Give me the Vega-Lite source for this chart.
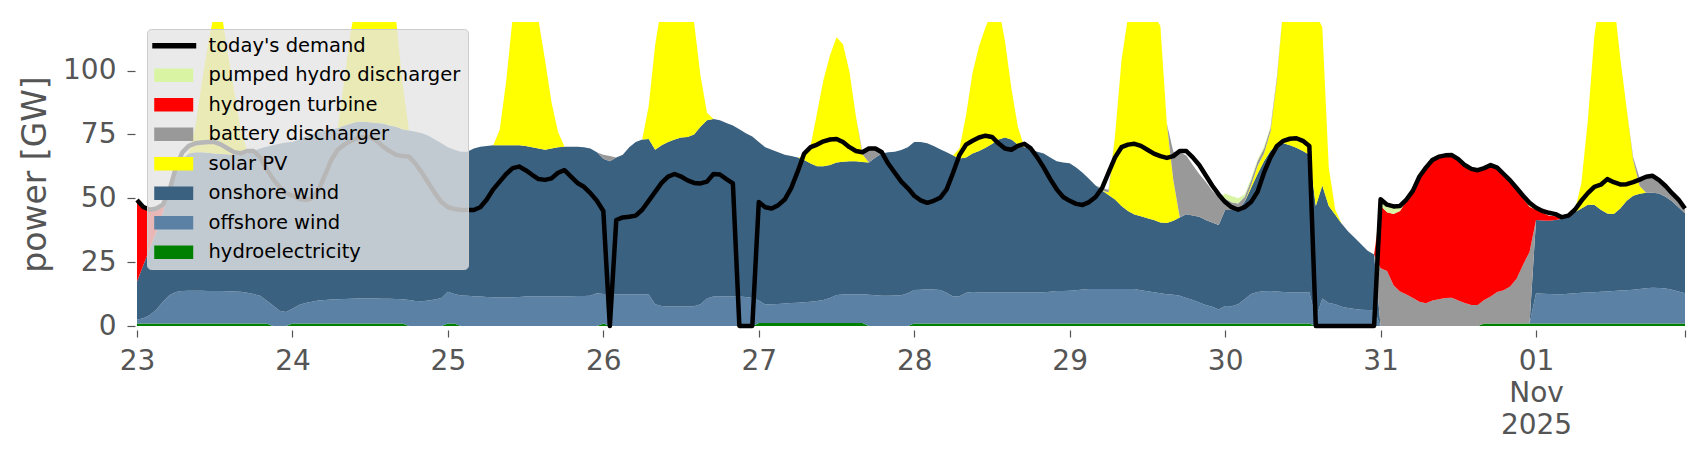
{
  "$schema": "https://vega.github.io/schema/vega-lite/v6.json",
  "width": 1548,
  "height": 304,
  "autosize": "none",
  "padding": {"left": 137, "top": 22, "right": 21, "bottom": 134},
  "background": "white",
  "data": {"values": [
{"t":"2025-10-23T00:00Z","hy":1,"of":1.5,"on":14.9,"so":0,"ba":0,"h2":31.9,"ph":0,"d":49.3},
{"t":"2025-10-23T01:00Z","hy":1,"of":2,"on":21,"so":0,"ba":0,"h2":22.5,"ph":0,"d":46.5},
{"t":"2025-10-23T02:00Z","hy":1,"of":3.3,"on":26.2,"so":0,"ba":0,"h2":15,"ph":0,"d":45.5},
{"t":"2025-10-23T03:00Z","hy":1,"of":5.5,"on":30.5,"so":0,"ba":0,"h2":9,"ph":0,"d":46},
{"t":"2025-10-23T04:00Z","hy":1,"of":8.5,"on":35,"so":0,"ba":0,"h2":3,"ph":0,"d":47.5},
{"t":"2025-10-23T05:00Z","hy":1,"of":11,"on":42,"so":0,"ba":0,"h2":0,"ph":0,"d":53},
{"t":"2025-10-23T06:00Z","hy":1,"of":12.3,"on":47.7,"so":0,"ba":0,"h2":0,"ph":0,"d":62},
{"t":"2025-10-23T07:00Z","hy":1,"of":12.7,"on":51.8,"so":0,"ba":0,"h2":0,"ph":0,"d":68},
{"t":"2025-10-23T08:00Z","hy":1,"of":12.8,"on":53.7,"so":0.5,"ba":0,"h2":0,"ph":0,"d":70.5},
{"t":"2025-10-23T09:00Z","hy":1,"of":12.8,"on":54.2,"so":10,"ba":0,"h2":0,"ph":0,"d":71.5},
{"t":"2025-10-23T10:00Z","hy":1,"of":12.8,"on":54.2,"so":27,"ba":0,"h2":0,"ph":0,"d":71.8},
{"t":"2025-10-23T11:00Z","hy":1,"of":12.7,"on":54.1,"so":43,"ba":0,"h2":0,"ph":0,"d":72},
{"t":"2025-10-23T12:00Z","hy":1,"of":12.7,"on":53.8,"so":56,"ba":0,"h2":0,"ph":0,"d":72},
{"t":"2025-10-23T13:00Z","hy":1,"of":12.7,"on":53.6,"so":56,"ba":0,"h2":0,"ph":0,"d":71},
{"t":"2025-10-23T14:00Z","hy":1,"of":12.6,"on":53.6,"so":40,"ba":0,"h2":0,"ph":0,"d":69.5},
{"t":"2025-10-23T15:00Z","hy":1,"of":12.5,"on":53.5,"so":25,"ba":0,"h2":0,"ph":0,"d":68},
{"t":"2025-10-23T16:00Z","hy":1,"of":12.4,"on":53.6,"so":10,"ba":0,"h2":0,"ph":0,"d":67.6},
{"t":"2025-10-23T17:00Z","hy":1,"of":12,"on":54.5,"so":1,"ba":0,"h2":0,"ph":0,"d":68.5},
{"t":"2025-10-23T18:00Z","hy":1,"of":11.5,"on":56,"so":0,"ba":0,"h2":0,"ph":0,"d":68.5},
{"t":"2025-10-23T19:00Z","hy":1,"of":10.8,"on":57.7,"so":0,"ba":0,"h2":0,"ph":0,"d":66},
{"t":"2025-10-23T20:00Z","hy":1,"of":9,"on":60.2,"so":0,"ba":0,"h2":0,"ph":0,"d":61.5},
{"t":"2025-10-23T21:00Z","hy":0,"of":8,"on":62.8,"so":0,"ba":0,"h2":0,"ph":0,"d":57.5},
{"t":"2025-10-23T22:00Z","hy":0,"of":6,"on":65.3,"so":0,"ba":0,"h2":0,"ph":0,"d":54.5},
{"t":"2025-10-23T23:00Z","hy":0,"of":5.5,"on":66.3,"so":0,"ba":0,"h2":0,"ph":0,"d":52},
{"t":"2025-10-24T00:00Z","hy":1,"of":5.8,"on":65.2,"so":0,"ba":0,"h2":0,"ph":0,"d":51},
{"t":"2025-10-24T01:00Z","hy":1,"of":7.2,"on":64.8,"so":0,"ba":0,"h2":0,"ph":0,"d":49.8},
{"t":"2025-10-24T02:00Z","hy":1,"of":8,"on":65.2,"so":0,"ba":0,"h2":0,"ph":0,"d":49.3},
{"t":"2025-10-24T03:00Z","hy":1,"of":8.5,"on":65.5,"so":0,"ba":0,"h2":0,"ph":0,"d":50},
{"t":"2025-10-24T04:00Z","hy":1,"of":9,"on":65.8,"so":0,"ba":0,"h2":0,"ph":0,"d":53},
{"t":"2025-10-24T05:00Z","hy":1,"of":9.2,"on":66.3,"so":0,"ba":0,"h2":0,"ph":0,"d":59},
{"t":"2025-10-24T06:00Z","hy":1,"of":9.4,"on":66.6,"so":0,"ba":0,"h2":0,"ph":0,"d":65},
{"t":"2025-10-24T07:00Z","hy":1,"of":9.5,"on":66.9,"so":0,"ba":0,"h2":0,"ph":0,"d":69},
{"t":"2025-10-24T08:00Z","hy":1,"of":9.6,"on":67.9,"so":18,"ba":0,"h2":0,"ph":0,"d":71},
{"t":"2025-10-24T09:00Z","hy":1,"of":9.7,"on":68.6,"so":36,"ba":0,"h2":0,"ph":0,"d":72.5},
{"t":"2025-10-24T10:00Z","hy":1,"of":9.8,"on":69.2,"so":48,"ba":0,"h2":0,"ph":0,"d":73.5},
{"t":"2025-10-24T11:00Z","hy":1,"of":9.8,"on":69.2,"so":55,"ba":0,"h2":0,"ph":0,"d":74},
{"t":"2025-10-24T12:00Z","hy":1,"of":9.8,"on":69,"so":55,"ba":0,"h2":0,"ph":0,"d":74},
{"t":"2025-10-24T13:00Z","hy":1,"of":9.8,"on":68.7,"so":55,"ba":0,"h2":0,"ph":0,"d":72.5},
{"t":"2025-10-24T14:00Z","hy":1,"of":9.7,"on":68.6,"so":55,"ba":0,"h2":0,"ph":0,"d":70.2},
{"t":"2025-10-24T15:00Z","hy":1,"of":9.7,"on":67.8,"so":52,"ba":0,"h2":0,"ph":0,"d":68.5},
{"t":"2025-10-24T16:00Z","hy":1,"of":9.6,"on":67.4,"so":42,"ba":0,"h2":0,"ph":0,"d":67},
{"t":"2025-10-24T17:00Z","hy":1,"of":9.5,"on":66.5,"so":18,"ba":0,"h2":0,"ph":0,"d":66.5},
{"t":"2025-10-24T18:00Z","hy":0,"of":10.2,"on":66.3,"so":0,"ba":0,"h2":0,"ph":0,"d":66.3},
{"t":"2025-10-24T19:00Z","hy":0,"of":9.8,"on":66.2,"so":0,"ba":0,"h2":0,"ph":0,"d":63.5},
{"t":"2025-10-24T20:00Z","hy":0,"of":9.7,"on":65.8,"so":0,"ba":0,"h2":0,"ph":0,"d":60},
{"t":"2025-10-24T21:00Z","hy":0,"of":10,"on":64.5,"so":0,"ba":0,"h2":0,"ph":0,"d":56},
{"t":"2025-10-24T22:00Z","hy":0,"of":10.4,"on":62.6,"so":0,"ba":0,"h2":0,"ph":0,"d":52},
{"t":"2025-10-24T23:00Z","hy":0,"of":11,"on":60.5,"so":0,"ba":0,"h2":0,"ph":0,"d":48.5},
{"t":"2025-10-25T00:00Z","hy":1,"of":12.4,"on":56.6,"so":0,"ba":0,"h2":0,"ph":0,"d":46.5},
{"t":"2025-10-25T01:00Z","hy":1,"of":11.5,"on":56.5,"so":0,"ba":0,"h2":0,"ph":0,"d":45.8},
{"t":"2025-10-25T02:00Z","hy":0,"of":11.9,"on":56.3,"so":0,"ba":0,"h2":0,"ph":0,"d":45.4},
{"t":"2025-10-25T03:00Z","hy":0,"of":11.8,"on":56.4,"so":0,"ba":0,"h2":0,"ph":0,"d":45.4},
{"t":"2025-10-25T04:00Z","hy":0,"of":11.6,"on":57.9,"so":0,"ba":0,"h2":0,"ph":0,"d":45.4},
{"t":"2025-10-25T05:00Z","hy":0,"of":11.5,"on":58.7,"so":0,"ba":0,"h2":0,"ph":0,"d":46.5},
{"t":"2025-10-25T06:00Z","hy":0,"of":11.4,"on":59.1,"so":0,"ba":0,"h2":0,"ph":0,"d":49.5},
{"t":"2025-10-25T07:00Z","hy":0,"of":11.3,"on":59.5,"so":0,"ba":0,"h2":0,"ph":0,"d":53.5},
{"t":"2025-10-25T08:00Z","hy":0,"of":11.2,"on":59.6,"so":6,"ba":0,"h2":0,"ph":0,"d":56.5},
{"t":"2025-10-25T09:00Z","hy":0,"of":11.2,"on":59.6,"so":25,"ba":0,"h2":0,"ph":0,"d":59.5},
{"t":"2025-10-25T10:00Z","hy":0,"of":11.3,"on":59.5,"so":50,"ba":0,"h2":0,"ph":0,"d":61.8},
{"t":"2025-10-25T11:00Z","hy":0,"of":11.4,"on":59.4,"so":62,"ba":0,"h2":0,"ph":0,"d":62.4},
{"t":"2025-10-25T12:00Z","hy":0,"of":11.5,"on":59,"so":66,"ba":0,"h2":0,"ph":0,"d":61},
{"t":"2025-10-25T13:00Z","hy":0,"of":11.5,"on":58.5,"so":62,"ba":0,"h2":0,"ph":0,"d":59.2},
{"t":"2025-10-25T14:00Z","hy":0,"of":11.5,"on":58,"so":50,"ba":0,"h2":0,"ph":0,"d":57.5},
{"t":"2025-10-25T15:00Z","hy":0,"of":11.5,"on":57.5,"so":35,"ba":0,"h2":0,"ph":0,"d":57.2},
{"t":"2025-10-25T16:00Z","hy":0,"of":11.5,"on":58,"so":18,"ba":0,"h2":0,"ph":0,"d":57.8},
{"t":"2025-10-25T17:00Z","hy":0,"of":11.5,"on":58.5,"so":6,"ba":0,"h2":0,"ph":0,"d":60},
{"t":"2025-10-25T18:00Z","hy":0,"of":11.6,"on":58.6,"so":0,"ba":0,"h2":0,"ph":0,"d":61},
{"t":"2025-10-25T19:00Z","hy":0,"of":11.6,"on":58.6,"so":0,"ba":0,"h2":0,"ph":0,"d":58.5},
{"t":"2025-10-25T20:00Z","hy":0,"of":11.7,"on":58.5,"so":0,"ba":0,"h2":0,"ph":0,"d":56},
{"t":"2025-10-25T21:00Z","hy":0,"of":11.7,"on":58.3,"so":0,"ba":0,"h2":0,"ph":0,"d":54.5},
{"t":"2025-10-25T22:00Z","hy":0,"of":11.8,"on":57.7,"so":0,"ba":0,"h2":0,"ph":0,"d":52},
{"t":"2025-10-25T23:00Z","hy":0,"of":12.8,"on":55.2,"so":0,"ba":0,"h2":0,"ph":0,"d":49},
{"t":"2025-10-26T00:00Z","hy":1,"of":11.5,"on":53,"so":0,"ba":1.5,"h2":0,"ph":0,"d":45},
{"t":"2025-10-26T01:00Z","hy":0,"of":12.4,"on":52.1,"so":0,"ba":2,"h2":0,"ph":0,"d":0},
{"t":"2025-10-26T02:00Z","hy":0,"of":12.4,"on":53.6,"so":0,"ba":0,"h2":0,"ph":0,"d":41.5},
{"t":"2025-10-26T03:00Z","hy":0,"of":12.3,"on":54.7,"so":0,"ba":0,"h2":0,"ph":0,"d":42.5},
{"t":"2025-10-26T04:00Z","hy":0,"of":12.3,"on":57.7,"so":0,"ba":0,"h2":0,"ph":0,"d":42.8},
{"t":"2025-10-26T05:00Z","hy":0,"of":12.4,"on":59.6,"so":0,"ba":0,"h2":0,"ph":0,"d":43.2},
{"t":"2025-10-26T06:00Z","hy":0,"of":12.4,"on":60.6,"so":0,"ba":0,"h2":0,"ph":0,"d":45.5},
{"t":"2025-10-26T07:00Z","hy":0,"of":12.3,"on":60.9,"so":12.8,"ba":0,"h2":0,"ph":0,"d":49},
{"t":"2025-10-26T08:00Z","hy":0,"of":8.5,"on":60.5,"so":41,"ba":0,"h2":0,"ph":0,"d":52.5},
{"t":"2025-10-26T09:00Z","hy":0,"of":7.8,"on":63,"so":55,"ba":0,"h2":0,"ph":0,"d":56},
{"t":"2025-10-26T10:00Z","hy":0,"of":7.6,"on":64.4,"so":60,"ba":0,"h2":0,"ph":0,"d":58.5},
{"t":"2025-10-26T11:00Z","hy":0,"of":7.6,"on":65.4,"so":62,"ba":0,"h2":0,"ph":0,"d":59.5},
{"t":"2025-10-26T12:00Z","hy":0,"of":7.6,"on":66.2,"so":62,"ba":0,"h2":0,"ph":0,"d":58.5},
{"t":"2025-10-26T13:00Z","hy":0,"of":7.6,"on":66.4,"so":58,"ba":0,"h2":0,"ph":0,"d":57},
{"t":"2025-10-26T14:00Z","hy":0,"of":7.7,"on":67.3,"so":44,"ba":0,"h2":0,"ph":0,"d":56},
{"t":"2025-10-26T15:00Z","hy":0,"of":8.5,"on":69.5,"so":20,"ba":0,"h2":0,"ph":0,"d":55.8},
{"t":"2025-10-26T16:00Z","hy":0,"of":10.8,"on":69.7,"so":3,"ba":0,"h2":0,"ph":0,"d":56.5},
{"t":"2025-10-26T17:00Z","hy":0,"of":11.5,"on":69.5,"so":0,"ba":0,"h2":0,"ph":0,"d":59.5},
{"t":"2025-10-26T18:00Z","hy":0,"of":11.5,"on":69,"so":0,"ba":0,"h2":0,"ph":0,"d":59.3},
{"t":"2025-10-26T19:00Z","hy":0,"of":11.5,"on":68,"so":0,"ba":0,"h2":0,"ph":0,"d":57.5},
{"t":"2025-10-26T20:00Z","hy":0,"of":11.5,"on":67,"so":0,"ba":0,"h2":0,"ph":0,"d":55.8},
{"t":"2025-10-26T21:00Z","hy":0,"of":11.5,"on":65.5,"so":0,"ba":0,"h2":0,"ph":0,"d":0},
{"t":"2025-10-26T22:00Z","hy":0,"of":11.4,"on":64.1,"so":0,"ba":0,"h2":0,"ph":0,"d":0},
{"t":"2025-10-26T23:00Z","hy":0,"of":11,"on":63.2,"so":0,"ba":0,"h2":0,"ph":0,"d":0},
{"t":"2025-10-27T00:00Z","hy":1.2,"of":8.8,"on":62,"so":0,"ba":0,"h2":0,"ph":0,"d":48.5},
{"t":"2025-10-27T01:00Z","hy":1.2,"of":7.2,"on":61.6,"so":0,"ba":0,"h2":0,"ph":0,"d":46.5},
{"t":"2025-10-27T02:00Z","hy":1.2,"of":7.3,"on":60.5,"so":0,"ba":0,"h2":0,"ph":0,"d":46},
{"t":"2025-10-27T03:00Z","hy":1.2,"of":7.4,"on":59.4,"so":0,"ba":0,"h2":0,"ph":0,"d":47.3},
{"t":"2025-10-27T04:00Z","hy":1.2,"of":7.6,"on":58.2,"so":0,"ba":0,"h2":0,"ph":0,"d":49.5},
{"t":"2025-10-27T05:00Z","hy":1.2,"of":7.8,"on":57.5,"so":0,"ba":0,"h2":0,"ph":0,"d":54},
{"t":"2025-10-27T06:00Z","hy":1.2,"of":7.9,"on":56.9,"so":0,"ba":0,"h2":0,"ph":0,"d":60.4},
{"t":"2025-10-27T07:00Z","hy":1.2,"of":8.1,"on":55.7,"so":1,"ba":0,"h2":0,"ph":0,"d":67.5},
{"t":"2025-10-27T08:00Z","hy":1.2,"of":8.3,"on":54.1,"so":7,"ba":0,"h2":0,"ph":0,"d":70},
{"t":"2025-10-27T09:00Z","hy":1.2,"of":8.6,"on":52.7,"so":21,"ba":0,"h2":0,"ph":0,"d":71},
{"t":"2025-10-27T10:00Z","hy":1.2,"of":9,"on":52.3,"so":34,"ba":0,"h2":0,"ph":0,"d":72.3},
{"t":"2025-10-27T11:00Z","hy":1.2,"of":9.8,"on":52,"so":43,"ba":0,"h2":0,"ph":0,"d":73},
{"t":"2025-10-27T12:00Z","hy":1.2,"of":10.9,"on":51.9,"so":49,"ba":0,"h2":0,"ph":0,"d":73.2},
{"t":"2025-10-27T13:00Z","hy":1.2,"of":11.1,"on":52,"so":46,"ba":0,"h2":0,"ph":0,"d":72},
{"t":"2025-10-27T14:00Z","hy":1.2,"of":11.2,"on":52.1,"so":35,"ba":0,"h2":0,"ph":0,"d":70},
{"t":"2025-10-27T15:00Z","hy":1.2,"of":11.2,"on":52.1,"so":17.5,"ba":0,"h2":0,"ph":0,"d":68.5},
{"t":"2025-10-27T16:00Z","hy":1.2,"of":11.2,"on":51.8,"so":3,"ba":1,"h2":0,"ph":0,"d":68},
{"t":"2025-10-27T17:00Z","hy":0,"of":12.2,"on":51.8,"so":0,"ba":5,"h2":0,"ph":0,"d":69.5},
{"t":"2025-10-27T18:00Z","hy":0,"of":12,"on":54,"so":0,"ba":3,"h2":0,"ph":0,"d":69.5},
{"t":"2025-10-27T19:00Z","hy":0,"of":11.8,"on":55.7,"so":0,"ba":0,"h2":0,"ph":0,"d":68},
{"t":"2025-10-27T20:00Z","hy":0,"of":11.8,"on":56.2,"so":0,"ba":0,"h2":0,"ph":0,"d":63.5},
{"t":"2025-10-27T21:00Z","hy":0,"of":11.9,"on":56.3,"so":0,"ba":0,"h2":0,"ph":0,"d":60},
{"t":"2025-10-27T22:00Z","hy":0,"of":12,"on":56.9,"so":0,"ba":0,"h2":0,"ph":0,"d":56.5},
{"t":"2025-10-27T23:00Z","hy":0,"of":12.8,"on":57.2,"so":0,"ba":0,"h2":0,"ph":0,"d":54},
{"t":"2025-10-28T00:00Z","hy":1,"of":13.1,"on":57.9,"so":0,"ba":0,"h2":0,"ph":0,"d":51},
{"t":"2025-10-28T01:00Z","hy":1,"of":13.2,"on":57.8,"so":0,"ba":0,"h2":0,"ph":0,"d":49.2},
{"t":"2025-10-28T02:00Z","hy":1,"of":13.4,"on":57.1,"so":0,"ba":0,"h2":0,"ph":0,"d":48.2},
{"t":"2025-10-28T03:00Z","hy":1,"of":13.3,"on":56.2,"so":0,"ba":0,"h2":0,"ph":0,"d":49},
{"t":"2025-10-28T04:00Z","hy":1,"of":13.1,"on":55.1,"so":0,"ba":0,"h2":0,"ph":0,"d":50.2},
{"t":"2025-10-28T05:00Z","hy":1,"of":12,"on":55,"so":0,"ba":0,"h2":0,"ph":0,"d":53.5},
{"t":"2025-10-28T06:00Z","hy":1,"of":10.5,"on":55.2,"so":0,"ba":0,"h2":0,"ph":0,"d":60},
{"t":"2025-10-28T07:00Z","hy":1,"of":10.6,"on":54,"so":4,"ba":0,"h2":0,"ph":0,"d":67},
{"t":"2025-10-28T08:00Z","hy":1,"of":12,"on":53,"so":16.5,"ba":0,"h2":0,"ph":0,"d":71},
{"t":"2025-10-28T09:00Z","hy":1,"of":12.3,"on":54.2,"so":31.5,"ba":0,"h2":0,"ph":0,"d":72.5},
{"t":"2025-10-28T10:00Z","hy":1,"of":12.2,"on":55.3,"so":41,"ba":0,"h2":0,"ph":0,"d":73.8},
{"t":"2025-10-28T11:00Z","hy":1,"of":12.2,"on":56.6,"so":47,"ba":0,"h2":0,"ph":0,"d":74.5},
{"t":"2025-10-28T12:00Z","hy":1,"of":12.2,"on":58,"so":52,"ba":0,"h2":0,"ph":0,"d":74},
{"t":"2025-10-28T13:00Z","hy":1,"of":12.2,"on":59.8,"so":52,"ba":0,"h2":0,"ph":0,"d":71.5},
{"t":"2025-10-28T14:00Z","hy":1,"of":12.2,"on":60.6,"so":38,"ba":0,"h2":0,"ph":0,"d":69.5},
{"t":"2025-10-28T15:00Z","hy":1,"of":12.2,"on":59.8,"so":20,"ba":0,"h2":0,"ph":0,"d":69},
{"t":"2025-10-28T16:00Z","hy":1,"of":12.2,"on":57.8,"so":7,"ba":0,"h2":0,"ph":0,"d":70.5},
{"t":"2025-10-28T17:00Z","hy":1,"of":12.2,"on":56.8,"so":0,"ba":0,"h2":0,"ph":0,"d":71.3},
{"t":"2025-10-28T18:00Z","hy":1,"of":12.2,"on":55.8,"so":0,"ba":0,"h2":0,"ph":0,"d":69.5},
{"t":"2025-10-28T19:00Z","hy":1,"of":12.2,"on":55,"so":0,"ba":0,"h2":0,"ph":0,"d":66},
{"t":"2025-10-28T20:00Z","hy":1,"of":12.2,"on":54.3,"so":0,"ba":0,"h2":0,"ph":0,"d":62},
{"t":"2025-10-28T21:00Z","hy":1,"of":12.4,"on":52.6,"so":0,"ba":0,"h2":0,"ph":0,"d":57.5},
{"t":"2025-10-28T22:00Z","hy":1,"of":12.7,"on":50.8,"so":0,"ba":0,"h2":0,"ph":0,"d":53.5},
{"t":"2025-10-28T23:00Z","hy":1,"of":12.7,"on":50.3,"so":0,"ba":0,"h2":0,"ph":0,"d":50.5},
{"t":"2025-10-29T00:00Z","hy":1,"of":12.8,"on":49.9,"so":0,"ba":0,"h2":0,"ph":0,"d":49},
{"t":"2025-10-29T01:00Z","hy":1,"of":13,"on":48,"so":0,"ba":0,"h2":0,"ph":0,"d":47.8},
{"t":"2025-10-29T02:00Z","hy":1,"of":13.3,"on":45.7,"so":0,"ba":0,"h2":0,"ph":0,"d":47.4},
{"t":"2025-10-29T03:00Z","hy":1,"of":13.5,"on":43,"so":0,"ba":0,"h2":0,"ph":0,"d":48.5},
{"t":"2025-10-29T04:00Z","hy":1,"of":13.5,"on":40.5,"so":0,"ba":0,"h2":0,"ph":0,"d":50.5},
{"t":"2025-10-29T05:00Z","hy":1,"of":13.5,"on":38.5,"so":0,"ba":1,"h2":0,"ph":0,"d":54},
{"t":"2025-10-29T06:00Z","hy":1,"of":13.5,"on":36.8,"so":1,"ba":1,"h2":0,"ph":0,"d":60},
{"t":"2025-10-29T07:00Z","hy":1,"of":13.5,"on":35,"so":25,"ba":0,"h2":0,"ph":0,"d":66},
{"t":"2025-10-29T08:00Z","hy":1,"of":13.5,"on":32.5,"so":57,"ba":0,"h2":0,"ph":0,"d":70},
{"t":"2025-10-29T09:00Z","hy":1,"of":13.5,"on":30.5,"so":76,"ba":0,"h2":0,"ph":0,"d":71},
{"t":"2025-10-29T10:00Z","hy":1,"of":13.5,"on":29.1,"so":80,"ba":0,"h2":0,"ph":0,"d":71.3},
{"t":"2025-10-29T11:00Z","hy":1,"of":13,"on":29,"so":82,"ba":0,"h2":0,"ph":0,"d":70.5},
{"t":"2025-10-29T12:00Z","hy":1,"of":12.6,"on":28.6,"so":82,"ba":0,"h2":0,"ph":0,"d":69},
{"t":"2025-10-29T13:00Z","hy":1,"of":12.2,"on":28.3,"so":80,"ba":0,"h2":0,"ph":0,"d":67.5},
{"t":"2025-10-29T14:00Z","hy":1,"of":11.8,"on":27.7,"so":77,"ba":0,"h2":0,"ph":0,"d":66.5},
{"t":"2025-10-29T15:00Z","hy":1,"of":11.4,"on":27.9,"so":39,"ba":0,"h2":0,"ph":0,"d":65.8},
{"t":"2025-10-29T16:00Z","hy":1,"of":11.2,"on":29,"so":16,"ba":11,"h2":0,"ph":0,"d":66.5},
{"t":"2025-10-29T17:00Z","hy":1,"of":10.8,"on":30.7,"so":0,"ba":25.5,"h2":0,"ph":0,"d":68.5},
{"t":"2025-10-29T18:00Z","hy":1,"of":10,"on":32.7,"so":0,"ba":23,"h2":0,"ph":0,"d":68.5},
{"t":"2025-10-29T19:00Z","hy":1,"of":9.2,"on":33.1,"so":0,"ba":19.7,"h2":0,"ph":0,"d":66},
{"t":"2025-10-29T20:00Z","hy":1,"of":8.2,"on":33.6,"so":0,"ba":16.7,"h2":0,"ph":0,"d":63},
{"t":"2025-10-29T21:00Z","hy":1,"of":7.2,"on":33.3,"so":0,"ba":15,"h2":0,"ph":0,"d":59},
{"t":"2025-10-29T22:00Z","hy":1,"of":6.5,"on":33,"so":0,"ba":12.5,"h2":0,"ph":0,"d":55},
{"t":"2025-10-29T23:00Z","hy":1,"of":5.5,"on":33,"so":0,"ba":10.7,"h2":0,"ph":0,"d":51.5},
{"t":"2025-10-30T00:00Z","hy":1,"of":6.8,"on":37.6,"so":0,"ba":4.5,"h2":0,"ph":2,"d":48.5},
{"t":"2025-10-30T01:00Z","hy":1,"of":6.7,"on":37.7,"so":0,"ba":3,"h2":0,"ph":2.5,"d":46.5},
{"t":"2025-10-30T02:00Z","hy":1,"of":7.5,"on":37,"so":0,"ba":2.5,"h2":0,"ph":2,"d":45.5},
{"t":"2025-10-30T03:00Z","hy":1,"of":9.5,"on":38,"so":0,"ba":2,"h2":0,"ph":1,"d":46.5},
{"t":"2025-10-30T04:00Z","hy":1,"of":11.5,"on":41.5,"so":1,"ba":2,"h2":0,"ph":0.7,"d":48.5},
{"t":"2025-10-30T05:00Z","hy":1,"of":12.3,"on":46.2,"so":3,"ba":2,"h2":0,"ph":0.7,"d":52.5},
{"t":"2025-10-30T06:00Z","hy":1,"of":12.6,"on":50.9,"so":3,"ba":2,"h2":0,"ph":0.7,"d":60},
{"t":"2025-10-30T07:00Z","hy":1,"of":12.7,"on":54.8,"so":7.5,"ba":1.5,"h2":0,"ph":0.5,"d":66},
{"t":"2025-10-30T08:00Z","hy":1,"of":12.5,"on":57.3,"so":26,"ba":1,"h2":0,"ph":0,"d":70.5},
{"t":"2025-10-30T09:00Z","hy":1,"of":12.3,"on":58.2,"so":54,"ba":0,"h2":0,"ph":0,"d":72.5},
{"t":"2025-10-30T10:00Z","hy":1,"of":12.2,"on":57.6,"so":68,"ba":0,"h2":0,"ph":0,"d":73.3},
{"t":"2025-10-30T11:00Z","hy":1,"of":12.2,"on":56.6,"so":75,"ba":0,"h2":0,"ph":0,"d":73.5},
{"t":"2025-10-30T12:00Z","hy":1,"of":12.2,"on":55.3,"so":77,"ba":0,"h2":0,"ph":0,"d":72.5},
{"t":"2025-10-30T13:00Z","hy":1,"of":12.2,"on":53.8,"so":77,"ba":0,"h2":0,"ph":0,"d":70.5},
{"t":"2025-10-30T14:00Z","hy":0,"of":3,"on":44,"so":75,"ba":0,"h2":0,"ph":0,"d":0},
{"t":"2025-10-30T15:00Z","hy":0,"of":10.8,"on":44.2,"so":62,"ba":0,"h2":0,"ph":0,"d":0},
{"t":"2025-10-30T16:00Z","hy":0,"of":9,"on":38,"so":15,"ba":0,"h2":0,"ph":0,"d":0},
{"t":"2025-10-30T17:00Z","hy":0,"of":8.5,"on":35,"so":2,"ba":0,"h2":0,"ph":0,"d":0},
{"t":"2025-10-30T18:00Z","hy":0,"of":7.5,"on":32.5,"so":0,"ba":0,"h2":0,"ph":0,"d":0},
{"t":"2025-10-30T19:00Z","hy":0,"of":7,"on":30,"so":0,"ba":0,"h2":0,"ph":0,"d":0},
{"t":"2025-10-30T20:00Z","hy":0,"of":6.7,"on":27.8,"so":0,"ba":0,"h2":0,"ph":0,"d":0},
{"t":"2025-10-30T21:00Z","hy":0,"of":6.4,"on":25.6,"so":0,"ba":0,"h2":0,"ph":0,"d":0},
{"t":"2025-10-30T22:00Z","hy":0,"of":6.3,"on":23.2,"so":0,"ba":0,"h2":0,"ph":0,"d":0},
{"t":"2025-10-30T23:00Z","hy":0,"of":6.2,"on":21.8,"so":0,"ba":0,"h2":0,"ph":0,"d":0},
{"t":"2025-10-31T00:00Z","hy":0,"of":0,"on":0,"so":0,"ba":22.6,"h2":24.5,"ph":2.5,"d":49.6},
{"t":"2025-10-31T01:00Z","hy":0,"of":0,"on":0,"so":0,"ba":21.5,"h2":23,"ph":3,"d":47.5},
{"t":"2025-10-31T02:00Z","hy":0,"of":0,"on":0,"so":0,"ba":16,"h2":27.8,"ph":3,"d":46.8},
{"t":"2025-10-31T03:00Z","hy":0,"of":0,"on":0,"so":0,"ba":13.5,"h2":31.5,"ph":2,"d":47},
{"t":"2025-10-31T04:00Z","hy":0,"of":0,"on":0,"so":0,"ba":12.3,"h2":36.7,"ph":0.5,"d":49.5},
{"t":"2025-10-31T05:00Z","hy":0,"of":0,"on":0,"so":0,"ba":11,"h2":42,"ph":0,"d":53},
{"t":"2025-10-31T06:00Z","hy":0,"of":0,"on":0,"so":0,"ba":9.5,"h2":49,"ph":0,"d":58.5},
{"t":"2025-10-31T07:00Z","hy":0,"of":0,"on":0,"so":0,"ba":8.9,"h2":53.1,"ph":0,"d":62},
{"t":"2025-10-31T08:00Z","hy":0,"of":0,"on":0,"so":0,"ba":10,"h2":55,"ph":0,"d":65},
{"t":"2025-10-31T09:00Z","hy":0,"of":0,"on":0,"so":0,"ba":10.5,"h2":55.8,"ph":0,"d":66.3},
{"t":"2025-10-31T10:00Z","hy":0,"of":0,"on":0,"so":0,"ba":11,"h2":55.8,"ph":0,"d":66.8},
{"t":"2025-10-31T11:00Z","hy":0,"of":0,"on":0,"so":0,"ba":11.1,"h2":55.8,"ph":0,"d":66.9},
{"t":"2025-10-31T12:00Z","hy":0,"of":0,"on":0,"so":0,"ba":10,"h2":55.3,"ph":0,"d":65.3},
{"t":"2025-10-31T13:00Z","hy":0,"of":0,"on":0,"so":0,"ba":9,"h2":54,"ph":0,"d":63},
{"t":"2025-10-31T14:00Z","hy":0,"of":0,"on":0,"so":0,"ba":8.2,"h2":53.3,"ph":0,"d":61.5},
{"t":"2025-10-31T15:00Z","hy":0,"of":0,"on":0,"so":0,"ba":8.2,"h2":52.8,"ph":0,"d":61},
{"t":"2025-10-31T16:00Z","hy":1,"of":0,"on":0,"so":0,"ba":9.2,"h2":51.6,"ph":0,"d":61.8},
{"t":"2025-10-31T17:00Z","hy":1,"of":0,"on":0,"so":0,"ba":10.5,"h2":51.5,"ph":0,"d":63},
{"t":"2025-10-31T18:00Z","hy":1,"of":0,"on":0,"so":0,"ba":12.3,"h2":48.7,"ph":0,"d":62},
{"t":"2025-10-31T19:00Z","hy":1,"of":0,"on":0,"so":0,"ba":13,"h2":45.5,"ph":0,"d":59.5},
{"t":"2025-10-31T20:00Z","hy":1,"of":0,"on":0,"so":0,"ba":14.5,"h2":41.5,"ph":0,"d":57},
{"t":"2025-10-31T21:00Z","hy":1,"of":0,"on":0,"so":0,"ba":17.5,"h2":35.5,"ph":0,"d":54},
{"t":"2025-10-31T22:00Z","hy":1,"of":0,"on":0,"so":0,"ba":23,"h2":26,"ph":1,"d":51},
{"t":"2025-10-31T23:00Z","hy":1,"of":0,"on":0,"so":0,"ba":28,"h2":17.7,"ph":1.5,"d":48.2},
{"t":"2025-11-01T00:00Z","hy":1,"of":11.8,"on":28.7,"so":0,"ba":0,"h2":4,"ph":0.5,"d":46.3},
{"t":"2025-11-01T01:00Z","hy":1,"of":11.6,"on":28.7,"so":0,"ba":0,"h2":3,"ph":0,"d":45},
{"t":"2025-11-01T02:00Z","hy":1,"of":11.5,"on":28.7,"so":0,"ba":0,"h2":2,"ph":0,"d":44.3},
{"t":"2025-11-01T03:00Z","hy":1,"of":11.4,"on":29.1,"so":0,"ba":0,"h2":1.5,"ph":0,"d":43.8},
{"t":"2025-11-01T04:00Z","hy":1,"of":11.4,"on":29.6,"so":0,"ba":0,"h2":0.8,"ph":0,"d":42.6},
{"t":"2025-11-01T05:00Z","hy":1,"of":11.6,"on":30.4,"so":0,"ba":0,"h2":0,"ph":0,"d":43.2},
{"t":"2025-11-01T06:00Z","hy":1,"of":11.8,"on":31.7,"so":0.5,"ba":0,"h2":0,"ph":0,"d":45.5},
{"t":"2025-11-01T07:00Z","hy":1,"of":12,"on":33,"so":10,"ba":0,"h2":0,"ph":0,"d":49},
{"t":"2025-11-01T08:00Z","hy":1,"of":12.1,"on":34.4,"so":33,"ba":0,"h2":0,"ph":0,"d":52},
{"t":"2025-11-01T09:00Z","hy":1,"of":12.2,"on":34.3,"so":66,"ba":0,"h2":0,"ph":0,"d":54.5},
{"t":"2025-11-01T10:00Z","hy":1,"of":12.4,"on":32.1,"so":85,"ba":0,"h2":0,"ph":0,"d":55.3},
{"t":"2025-11-01T11:00Z","hy":1,"of":12.5,"on":30.5,"so":86,"ba":0,"h2":0,"ph":0,"d":57.5},
{"t":"2025-11-01T12:00Z","hy":1,"of":12.7,"on":30.1,"so":84.5,"ba":0,"h2":0,"ph":0,"d":56.3},
{"t":"2025-11-01T13:00Z","hy":1,"of":12.9,"on":32.1,"so":59,"ba":0,"h2":0,"ph":0,"d":55.4},
{"t":"2025-11-01T14:00Z","hy":1,"of":13,"on":35,"so":36,"ba":0,"h2":0,"ph":0,"d":55.5},
{"t":"2025-11-01T15:00Z","hy":1,"of":13.2,"on":36.8,"so":14,"ba":1,"h2":0,"ph":0,"d":56.3},
{"t":"2025-11-01T16:00Z","hy":1,"of":13.5,"on":37.3,"so":3,"ba":3,"h2":0,"ph":0,"d":57.3},
{"t":"2025-11-01T17:00Z","hy":1,"of":13.8,"on":37.4,"so":0,"ba":6,"h2":0,"ph":0,"d":58.4},
{"t":"2025-11-01T18:00Z","hy":1,"of":14,"on":37.2,"so":0,"ba":6.5,"h2":0,"ph":0,"d":58.8},
{"t":"2025-11-01T19:00Z","hy":1,"of":13.9,"on":37,"so":0,"ba":5.2,"h2":0,"ph":0,"d":57.1},
{"t":"2025-11-01T20:00Z","hy":1,"of":13.7,"on":35.9,"so":0,"ba":4.5,"h2":0,"ph":0,"d":54.8},
{"t":"2025-11-01T21:00Z","hy":1,"of":13.2,"on":34.6,"so":0,"ba":3.5,"h2":0,"ph":0,"d":52},
{"t":"2025-11-01T22:00Z","hy":1,"of":12.5,"on":33,"so":0,"ba":2.5,"h2":0,"ph":0,"d":49.5},
{"t":"2025-11-01T23:00Z","hy":1,"of":11.8,"on":31.3,"so":0,"ba":2,"h2":0,"ph":0,"d":46}
  ]},
  "layer": [
    {
      "transform": [
        {"fold": ["hy", "of", "on", "so", "ba", "h2", "ph"], "as": ["k", "v"]},
        {"lookup": "k", "from": {"data": {"values": [
          {"k": "hy", "name": "hydroelectricity", "rank": 1},
          {"k": "of", "name": "offshore wind", "rank": 2},
          {"k": "on", "name": "onshore wind", "rank": 3},
          {"k": "so", "name": "solar PV", "rank": 4},
          {"k": "ba", "name": "battery discharger", "rank": 5},
          {"k": "h2", "name": "hydrogen turbine", "rank": 6},
          {"k": "ph", "name": "pumped hydro discharger", "rank": 7}
        ]}, "key": "k", "fields": ["name", "rank"]}}
      ],
      "mark": {"type": "area", "clip": true, "opacity": 1, "interpolate": "linear"},
      "encoding": {
        "x": {"field": "t", "type": "temporal", "title": null,
          "scale": {"type": "utc", "domain": [1761177600000, 1762038000000], "nice": false},
          "axis": {"values": [1761177600000, 1761264000000, 1761350400000, 1761436800000, 1761523200000, 1761609600000, 1761696000000, 1761782400000, 1761868800000, 1761955200000, 1762038000000],
            "labelExpr": "utchours(datum.value) == 23 ? '' : (utcdate(datum.value) == 1 ? ['01', 'Nov', '2025'] : utcFormat(datum.value, '%d'))"}},
        "y": {"field": "v", "type": "quantitative", "stack": "zero", "title": "power [GW]",
          "scale": {"domain": [0, 119], "nice": false, "zero": true},
          "axis": {"values": [0, 25, 50, 75, 100]}},
        "color": {"field": "name", "type": "nominal",
          "scale": {
            "domain": ["today's demand", "pumped hydro discharger", "hydrogen turbine", "battery discharger", "solar PV", "onshore wind", "offshore wind", "hydroelectricity"],
            "range": ["#000000", "#d9f5a3", "#ff0000", "#999999", "#ffff00", "#3b6181", "#5b82a5", "#008000"]
          },
          "legend": {
            "orient": "none", "legendX": 10, "legendY": 7, "title": null,
            "fillColor": "rgba(229,229,229,0.8)", "strokeColor": "#cccccc", "cornerRadius": 4,
            "padding": 7, "labelFontSize": 19.5, "labelFont": "DejaVu Sans", "labelColor": "#000000",
            "labelLimit": 400, "symbolSize": 196, "symbolStrokeWidth": 0, "labelOffset": 35, "rowPadding": 8.5,
            "symbolType": {"expr": "datum.value === \"today's demand\" ? 'M-1.64,-0.38H4.64V0.38H-1.64Z' : 'M-1.36,-0.96H4.21V0.96H-1.36Z'"}
          }},
        "order": {"field": "rank", "type": "quantitative"}
      }
    },
    {
      "mark": {"type": "line", "strokeWidth": 4.5, "strokeJoin": "round", "strokeCap": "butt"},
      "encoding": {
        "x": {"field": "t", "type": "temporal", "title": null},
        "y": {"field": "d", "type": "quantitative", "title": "power [GW]"},
        "color": {"datum": "today's demand"}
      }
    }
  ],
  "config": {
    "font": "DejaVu Sans",
    "view": {"stroke": null},
    "axis": {"domain": false, "grid": false, "labelColor": "#555555", "titleColor": "#555555", "tickColor": "#555555",
      "labelFont": "DejaVu Sans", "titleFont": "DejaVu Sans", "titleFontWeight": "normal",
      "labelFontSize": 28, "titleFontSize": 33, "tickWidth": 1.2, "labelFlush": false, "labelBound": false, "labelOverlap": false},
    "axisX": {"tickSize": 7, "offset": 4, "labelPadding": 10, "labelLineHeight": 32},
    "axisY": {"tickSize": 8, "offset": 2, "labelPadding": 11, "titlePadding": 10}
  }
}
